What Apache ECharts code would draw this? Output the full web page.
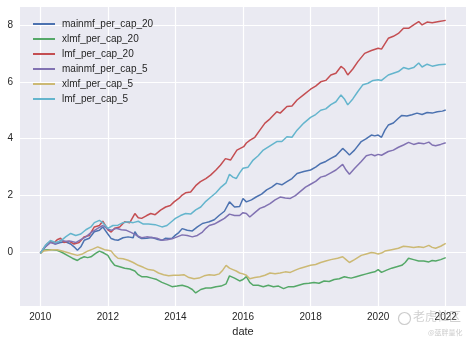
<!DOCTYPE html>
<html>
<head>
<meta charset="utf-8">
<script src="https://cdn.jsdelivr.net/npm/echarts@6/dist/echarts.min.js"></script>
<style>
  html, body { margin: 0; padding: 0; background: #ffffff; }
  #chart { width: 473px; height: 344px; }
</style>
</head>
<body>
<div id="chart"></div>
<script>
// Cumulative per-capita money-flow factors, [decimal year, value]
const mainmf_per_cap_20 = [
  [2010.0,-0.03],[2010.15,0.2],[2010.3,0.38],[2010.45,0.3],[2010.6,0.35],[2010.75,0.38],[2010.9,0.3],
  [2011.0,0.2],[2011.1,0.08],[2011.2,0.2],[2011.3,0.43],[2011.45,0.5],[2011.6,0.73],[2011.75,0.78],
  [2011.85,0.9],[2012.0,0.65],[2012.1,0.49],[2012.2,0.45],[2012.3,0.43],[2012.45,0.52],[2012.6,0.55],
  [2012.75,0.52],[2012.8,0.73],[2012.9,0.55],[2013.0,0.49],[2013.15,0.5],[2013.3,0.53],[2013.45,0.47],
  [2013.6,0.43],[2013.7,0.5],[2013.8,0.49],[2013.9,0.5],[2014.0,0.61],[2014.1,0.7],[2014.2,0.84],
  [2014.35,0.78],[2014.5,0.76],[2014.65,0.9],[2014.8,1.02],[2014.9,1.05],[2015.0,1.08],[2015.15,1.15],
  [2015.3,1.31],[2015.45,1.45],[2015.6,1.78],[2015.75,1.6],[2015.9,1.62],[2016.0,1.9],[2016.1,1.78],
  [2016.25,1.85],[2016.4,1.96],[2016.55,2.05],[2016.7,2.2],[2016.85,2.3],[2017.0,2.43],[2017.15,2.38],
  [2017.3,2.49],[2017.45,2.6],[2017.6,2.78],[2017.8,2.85],[2018.0,2.9],[2018.15,3.0],[2018.3,3.13],
  [2018.45,3.2],[2018.6,3.31],[2018.75,3.4],[2018.95,3.66],[2019.05,3.55],[2019.15,3.43],[2019.3,3.6],
  [2019.5,3.9],[2019.65,4.0],[2019.8,4.13],[2019.9,4.1],[2020.0,4.13],[2020.1,4.05],[2020.2,4.3],
  [2020.3,4.48],[2020.45,4.55],[2020.6,4.72],[2020.7,4.82],[2020.85,4.8],[2021.0,4.84],[2021.15,4.9],
  [2021.3,4.85],[2021.45,4.92],[2021.6,4.9],[2021.75,4.95],[2021.9,4.97],[2022.0,5.01]
];
const xlmf_per_cap_20 = [
  [2010.0,-0.03],[2010.1,0.08],[2010.2,0.1],[2010.35,0.1],[2010.5,0.08],[2010.65,0.0],[2010.8,-0.1],
  [2010.95,-0.2],[2011.1,-0.28],[2011.2,-0.2],[2011.3,-0.15],[2011.4,-0.18],[2011.5,-0.15],[2011.65,-0.02],
  [2011.75,0.05],[2011.85,0.0],[2012.0,-0.1],[2012.1,-0.3],[2012.2,-0.45],[2012.35,-0.5],[2012.5,-0.55],
  [2012.65,-0.58],[2012.8,-0.65],[2012.9,-0.78],[2013.0,-0.85],[2013.15,-0.85],[2013.3,-0.9],[2013.45,-0.95],
  [2013.6,-1.05],[2013.75,-1.12],[2013.9,-1.2],[2014.05,-1.18],[2014.2,-1.15],[2014.35,-1.2],[2014.5,-1.3],
  [2014.6,-1.42],[2014.75,-1.3],[2014.9,-1.25],[2015.05,-1.25],[2015.2,-1.2],[2015.35,-1.18],[2015.5,-1.1],
  [2015.6,-0.82],[2015.75,-0.9],[2015.9,-1.0],[2016.0,-0.95],[2016.1,-0.85],[2016.2,-1.05],[2016.3,-1.15],
  [2016.45,-1.15],[2016.6,-1.2],[2016.75,-1.15],[2016.9,-1.2],[2017.05,-1.18],[2017.2,-1.27],[2017.35,-1.2],
  [2017.5,-1.2],[2017.65,-1.15],[2017.8,-1.1],[2017.95,-1.08],[2018.1,-1.05],[2018.25,-1.08],[2018.4,-1.0],
  [2018.55,-1.02],[2018.7,-0.95],[2018.85,-0.92],[2019.0,-0.85],[2019.1,-0.88],[2019.2,-0.9],[2019.35,-0.85],
  [2019.5,-0.8],[2019.65,-0.75],[2019.8,-0.7],[2019.9,-0.68],[2020.0,-0.6],[2020.1,-0.7],[2020.25,-0.62],
  [2020.4,-0.55],[2020.55,-0.5],[2020.7,-0.45],[2020.8,-0.35],[2020.9,-0.2],[2021.05,-0.25],[2021.2,-0.3],
  [2021.35,-0.3],[2021.5,-0.33],[2021.6,-0.28],[2021.7,-0.3],[2021.85,-0.25],[2022.0,-0.18]
];
const lmf_per_cap_20 = [
  [2010.0,-0.03],[2010.1,0.15],[2010.2,0.3],[2010.3,0.38],[2010.4,0.33],[2010.5,0.45],[2010.6,0.5],
  [2010.7,0.35],[2010.85,0.4],[2011.0,0.3],[2011.15,0.35],[2011.3,0.55],[2011.45,0.6],[2011.6,0.9],
  [2011.75,0.95],[2011.85,1.1],[2012.0,0.8],[2012.1,0.72],[2012.2,0.85],[2012.35,0.9],[2012.5,1.08],
  [2012.65,1.05],[2012.8,1.37],[2012.9,1.22],[2013.0,1.2],[2013.15,1.3],[2013.27,1.37],[2013.4,1.33],
  [2013.56,1.49],[2013.71,1.6],[2013.85,1.65],[2013.96,1.78],[2014.1,1.9],[2014.2,2.02],[2014.3,2.1],
  [2014.45,2.13],[2014.6,2.35],[2014.74,2.49],[2014.9,2.6],[2015.04,2.72],[2015.2,2.9],[2015.33,3.07],
  [2015.48,3.3],[2015.63,3.25],[2015.82,3.6],[2016.02,3.72],[2016.1,3.85],[2016.21,3.95],[2016.35,4.05],
  [2016.5,4.3],[2016.65,4.55],[2016.8,4.7],[2017.0,4.95],[2017.1,4.9],[2017.3,5.13],[2017.45,5.15],
  [2017.6,5.36],[2017.8,5.55],[2018.0,5.74],[2018.15,5.85],[2018.3,6.0],[2018.45,6.05],[2018.6,6.24],
  [2018.75,6.3],[2018.9,6.54],[2019.0,6.45],[2019.1,6.24],[2019.25,6.45],[2019.4,6.71],[2019.6,7.0],
  [2019.8,7.1],[2020.0,7.18],[2020.1,7.15],[2020.3,7.53],[2020.45,7.6],[2020.6,7.7],[2020.75,7.88],
  [2020.9,7.88],[2021.05,8.0],[2021.2,8.12],[2021.3,8.0],[2021.45,8.1],[2021.6,8.08],[2021.8,8.12],
  [2022.0,8.16]
];
const mainmf_per_cap_5 = [
  [2010.0,-0.03],[2010.15,0.2],[2010.3,0.35],[2010.45,0.3],[2010.6,0.42],[2010.75,0.4],[2010.9,0.4],
  [2011.05,0.35],[2011.2,0.45],[2011.35,0.55],[2011.5,0.7],[2011.7,0.85],[2011.85,0.95],[2012.0,0.82],
  [2012.1,0.78],[2012.25,0.85],[2012.4,0.8],[2012.55,0.78],[2012.7,0.7],[2012.85,0.6],[2013.0,0.52],
  [2013.15,0.55],[2013.3,0.53],[2013.45,0.5],[2013.6,0.43],[2013.75,0.45],[2013.9,0.48],[2014.05,0.55],
  [2014.2,0.62],[2014.35,0.6],[2014.5,0.55],[2014.65,0.6],[2014.8,0.72],[2014.9,0.85],[2015.0,0.95],
  [2015.15,1.0],[2015.3,1.1],[2015.45,1.2],[2015.6,1.35],[2015.75,1.3],[2015.9,1.3],[2016.0,1.4],
  [2016.1,1.37],[2016.2,1.25],[2016.35,1.4],[2016.5,1.55],[2016.65,1.62],[2016.8,1.72],[2016.95,1.85],
  [2017.1,1.95],[2017.25,1.92],[2017.4,1.9],[2017.55,2.0],[2017.7,2.15],[2017.85,2.3],[2018.0,2.4],
  [2018.15,2.5],[2018.3,2.65],[2018.45,2.7],[2018.6,2.8],[2018.75,2.9],[2018.95,3.1],[2019.05,2.9],
  [2019.15,2.75],[2019.3,2.95],[2019.5,3.2],[2019.65,3.4],[2019.8,3.45],[2019.9,3.4],[2020.0,3.45],
  [2020.1,3.42],[2020.3,3.55],[2020.45,3.6],[2020.6,3.7],[2020.75,3.78],[2020.9,3.87],[2021.05,3.8],
  [2021.2,3.85],[2021.35,3.82],[2021.5,3.88],[2021.6,3.78],[2021.7,3.75],[2021.85,3.8],[2022.0,3.86]
];
const xlmf_per_cap_5 = [
  [2010.0,-0.03],[2010.1,0.05],[2010.2,0.07],[2010.35,0.1],[2010.5,0.1],[2010.65,0.05],[2010.8,0.0],
  [2010.95,-0.05],[2011.1,-0.1],[2011.25,-0.05],[2011.4,0.05],[2011.55,0.12],[2011.7,0.2],[2011.8,0.15],
  [2011.9,0.1],[2012.0,0.08],[2012.1,0.05],[2012.2,-0.1],[2012.3,-0.2],[2012.45,-0.22],[2012.6,-0.27],
  [2012.75,-0.35],[2012.9,-0.45],[2013.05,-0.52],[2013.2,-0.6],[2013.35,-0.62],[2013.5,-0.72],[2013.65,-0.78],
  [2013.8,-0.82],[2013.95,-0.8],[2014.1,-0.8],[2014.25,-0.78],[2014.4,-0.88],[2014.55,-0.92],[2014.7,-0.9],
  [2014.85,-0.82],[2015.0,-0.78],[2015.15,-0.8],[2015.3,-0.75],[2015.4,-0.62],[2015.5,-0.45],[2015.6,-0.55],
  [2015.7,-0.6],[2015.8,-0.65],[2015.9,-0.72],[2016.0,-0.75],[2016.1,-0.8],[2016.2,-0.92],[2016.35,-0.88],
  [2016.5,-0.85],[2016.65,-0.8],[2016.8,-0.72],[2016.95,-0.75],[2017.1,-0.72],[2017.25,-0.68],[2017.4,-0.7],
  [2017.55,-0.62],[2017.7,-0.55],[2017.85,-0.5],[2018.0,-0.45],[2018.15,-0.42],[2018.3,-0.35],[2018.45,-0.3],
  [2018.6,-0.25],[2018.8,-0.2],[2018.95,-0.15],[2019.05,-0.25],[2019.15,-0.35],[2019.3,-0.25],[2019.5,-0.1],
  [2019.65,-0.05],[2019.8,0.0],[2019.9,-0.02],[2020.0,-0.05],[2020.1,-0.02],[2020.2,0.05],[2020.4,0.1],
  [2020.6,0.15],[2020.75,0.22],[2020.9,0.2],[2021.05,0.18],[2021.2,0.2],[2021.35,0.18],[2021.5,0.25],
  [2021.6,0.18],[2021.7,0.15],[2021.85,0.22],[2022.0,0.32]
];
const lmf_per_cap_5 = [
  [2010.0,-0.03],[2010.15,0.25],[2010.3,0.42],[2010.45,0.35],[2010.6,0.4],[2010.75,0.55],[2010.9,0.67],
  [2011.05,0.6],[2011.2,0.65],[2011.35,0.8],[2011.5,0.9],[2011.6,1.05],[2011.75,1.13],[2011.85,1.05],
  [2012.0,0.85],[2012.15,0.95],[2012.3,0.96],[2012.45,1.05],[2012.6,1.08],[2012.75,1.05],[2012.9,1.1],
  [2013.05,1.0],[2013.2,1.0],[2013.4,0.98],[2013.6,0.9],[2013.75,0.95],[2013.9,1.1],[2014.0,1.2],
  [2014.15,1.3],[2014.3,1.37],[2014.45,1.35],[2014.6,1.5],[2014.75,1.6],[2014.9,1.8],[2015.05,1.95],
  [2015.2,2.1],[2015.35,2.3],[2015.5,2.45],[2015.6,2.75],[2015.7,2.65],[2015.8,2.6],[2015.9,2.8],
  [2016.0,2.96],[2016.15,3.0],[2016.3,3.25],[2016.45,3.4],[2016.6,3.6],[2016.8,3.75],[2017.0,3.9],
  [2017.15,3.9],[2017.3,4.07],[2017.45,4.05],[2017.6,4.3],[2017.8,4.55],[2018.0,4.75],[2018.15,4.85],
  [2018.3,5.0],[2018.45,5.05],[2018.6,5.2],[2018.75,5.3],[2018.9,5.54],[2019.0,5.4],[2019.1,5.19],
  [2019.25,5.4],[2019.4,5.66],[2019.55,5.9],[2019.7,5.95],[2019.85,6.05],[2020.0,6.07],[2020.1,6.05],
  [2020.3,6.24],[2020.45,6.3],[2020.6,6.36],[2020.75,6.5],[2020.9,6.45],[2021.05,6.5],[2021.2,6.66],
  [2021.3,6.52],[2021.45,6.62],[2021.6,6.55],[2021.8,6.6],[2022.0,6.62]
];

const seriesNames = ['mainmf_per_cap_20','xlmf_per_cap_20','lmf_per_cap_20','mainmf_per_cap_5','xlmf_per_cap_5','lmf_per_cap_5'];
const seriesData = [mainmf_per_cap_20, xlmf_per_cap_20, lmf_per_cap_20, mainmf_per_cap_5, xlmf_per_cap_5, lmf_per_cap_5];
const palette = ['#4C72B0','#55A868','#C44E52','#8172B2','#CCB974','#64B5CD'];
const xTicks = [2010, 2012, 2014, 2016, 2018, 2020, 2022];
const yTicks = [0, 2, 4, 6, 8];

const chart = echarts.init(document.getElementById('chart'), null, { renderer: 'canvas' });
const labelFont = { fontFamily: 'Liberation Sans, Arial, sans-serif', fontSize: 10, color: '#262626' };

chart.setOption({
  animation: false,
  backgroundColor: '#ffffff',
  color: palette,
  grid: {
    left: 20, right: 7, top: 7, bottom: 38,
    show: true, backgroundColor: '#EAEAF2', borderWidth: 0
  },
  legend: {
    orient: 'vertical', left: 28, top: 13,
    icon: 'rect', itemWidth: 22, itemHeight: 2, itemGap: 3,
    textStyle: Object.assign({}, labelFont, { lineHeight: 12, padding: [0, 0, 0, 2] }),
    data: seriesNames
  },
  xAxis: {
    type: 'value', min: 2009.4, max: 2022.6,
    name: 'date', nameLocation: 'middle', nameGap: 19,
    nameTextStyle: Object.assign({}, labelFont, { fontSize: 11 }),
    axisLine: { show: false },
    axisTick: { show: false, customValues: xTicks },
    axisLabel: Object.assign({ customValues: xTicks, margin: 6, formatter: v => String(v) }, labelFont),
    splitLine: { show: true, lineStyle: { color: '#ffffff', width: 1.2 } }
  },
  yAxis: {
    type: 'value', min: -1.88, max: 8.63,
    axisLine: { show: false },
    axisTick: { show: false, customValues: yTicks },
    axisLabel: Object.assign({ customValues: yTicks, margin: 7, formatter: v => String(v) }, labelFont),
    splitLine: { show: true, lineStyle: { color: '#ffffff', width: 1.2 } }
  },
  series: seriesNames.map((name, i) => ({
    name: name,
    type: 'line',
    data: seriesData[i],
    showSymbol: false,
    symbol: 'none',
    lineStyle: { width: 1.5, color: palette[i] },
    itemStyle: { color: palette[i] },
    z: 2 + i
  })),
  graphic: [
    {
      type: 'circle', left: 396, top: 310,
      shape: { r: 6 },
      style: { fill: 'none', stroke: 'rgba(170,170,170,0.6)', lineWidth: 1.2 },
      z: 100
    },
    {
      type: 'text', left: 413, top: 310,
      style: { text: '老虎社区', font: '12px "Noto Sans CJK SC"', fill: 'rgba(170,170,170,0.55)' },
      z: 100
    },
    {
      type: 'text', left: 428, top: 329,
      style: { text: '@蓝胖量化', font: '7px "Noto Sans CJK SC"', fill: 'rgba(170,170,170,0.6)' },
      z: 100
    }
  ]
});
</script>
</body>
</html>
